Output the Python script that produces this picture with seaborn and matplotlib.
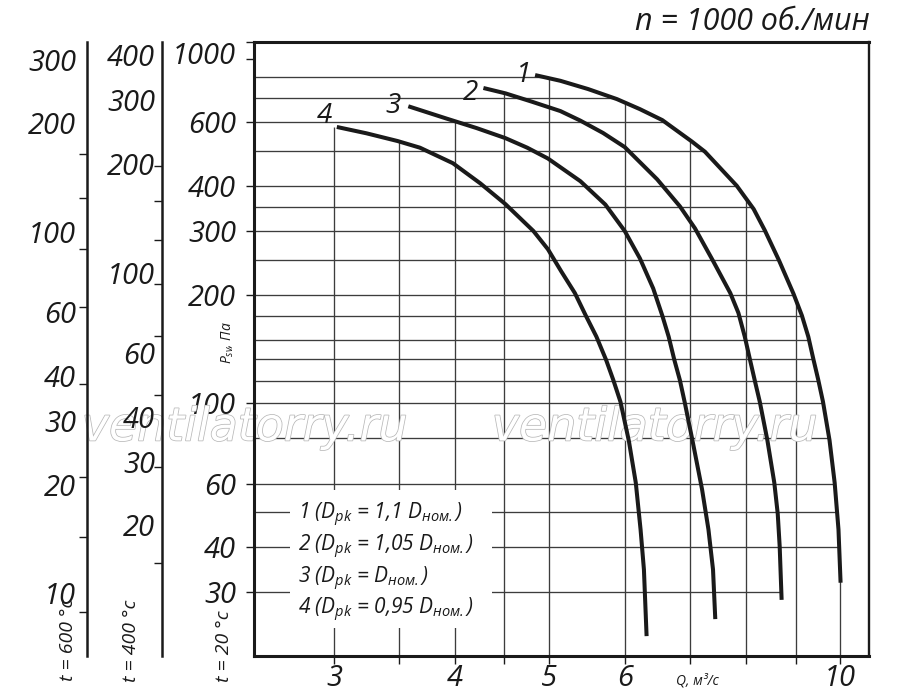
import numpy as np
import pandas as pd
import matplotlib
matplotlib.use('Agg')
import matplotlib.pyplot as plt
import matplotlib.patheffects as pe
from matplotlib.patches import Rectangle
from matplotlib.ticker import NullFormatter
import seaborn as sns

# %% Data: Q in m3/s, P_sv in Pa at t = 20 C
q1 = [4.84, 5.14, 5.49, 5.88, 6.21, 6.55, 7.03, 7.25, 7.82, 8.14, 8.36, 8.65, 8.95, 9.13, 9.27, 9.38, 9.49, 9.60, 9.75, 9.87, 9.96, 10.01]
p1 = [810, 781, 741, 695, 652, 608, 530, 497, 400, 345, 301, 248, 201, 175, 153, 133, 116.5, 101, 79.1, 60.3, 44.8, 31.9]

q2 = [4.28, 4.51, 4.80, 5.14, 5.39, 5.69, 5.99, 6.47, 6.83, 7.08, 7.39, 7.70, 7.85, 7.97, 8.07, 8.16, 8.26, 8.41, 8.55, 8.62, 8.66, 8.70]
p2 = [746, 721, 684, 644, 606, 560, 512, 417, 351, 305, 248, 202, 178, 153, 132, 116, 101, 79.1, 60.3, 49.5, 40.2, 28.6]

q3 = [3.58, 3.92, 4.21, 4.51, 4.75, 4.99, 5.39, 5.72, 5.99, 6.21, 6.41, 6.55, 6.65, 6.74, 6.83, 6.91, 7.04, 7.20, 7.31, 7.39, 7.43]
p3 = [664, 614, 578, 542, 510, 476, 412, 355, 300, 252, 208, 175, 153, 132, 116, 100.5, 78.6, 57.8, 44.8, 34.7, 25.3]

q4 = [3.02, 3.24, 3.49, 3.68, 3.98, 4.25, 4.51, 4.82, 4.99, 5.15, 5.32, 5.46, 5.60, 5.73, 5.83, 5.93, 6.05, 6.15, 6.22, 6.27, 6.31]
p4 = [582, 559, 532, 510, 462, 406, 356, 300, 267, 232, 202, 175, 153, 132, 116, 101, 78.6, 60.3, 44.8, 34.7, 22.7]

curve_names = ['1', '2', '3', '4']
legend_lines = [
    r'1 ($D_{pk}$ = 1,1 $D_{ном.}$)',
    r'2 ($D_{pk}$ = 1,05 $D_{ном.}$)',
    r'3 ($D_{pk}$ = $D_{ном.}$)',
    r'4 ($D_{pk}$ = 0,95 $D_{ном.}$)',
]

# grid values and ticks of the main (t = 20 C) scale
grid_p = [800, 700, 600, 500, 400, 350, 300, 250, 200, 175, 150, 133, 115, 100, 80, 60, 50, 40, 30]
grid_q = [3, 3.5, 4, 4.5, 5, 6, 7, 8, 9, 10]
xtick_major = [3, 4, 5, 6, 10]
xtick_minor = [3.5, 4.5, 7, 8, 9]
ytick_major = [1000, 600, 400, 300, 200, 100, 60, 40, 30]
ytick_minor = [900]

# extra pressure scales for hot gas
t600_labels = [300, 200, 100, 60, 40, 30, 20, 10]
t600_ticks = [164, 124, 90, 62, 38, 21, 14.3, 8.9]
t400_labels = [400, 300, 200, 100, 60, 40, 30, 20]
t400_ticks = [198, 158, 123, 93, 67, 46, 29, 15.7]

# %% Style
sns.set_theme(style='white')
plt.rcParams['font.family'] = ['Open Sans', 'DejaVu Sans']
plt.rcParams['font.style'] = 'italic'
plt.rcParams['mathtext.fontset'] = 'custom'
plt.rcParams['mathtext.it'] = 'Open Sans:italic'
plt.rcParams['mathtext.rm'] = 'Open Sans:italic'
plt.rcParams['mathtext.sf'] = 'Open Sans:italic'
plt.rcParams['text.color'] = '#1a1a1a'
plt.rcParams['xtick.color'] = '#1a1a1a'
plt.rcParams['ytick.color'] = '#1a1a1a'

ink = '#1a1a1a'
grid_col = '#3c3c3c'
W, H = 900, 697


def fx(px):
    return px / W


def fy(py):
    return 1 - py / H


fig = plt.figure(figsize=(W / 100, H / 100), dpi=100)
ax = fig.add_axes([fx(254), fy(656), fx(869) - fx(254), fy(42) - fy(656)])
ax.set_xscale('log')
ax.set_yscale('log')
ax.set_xlim(2.48, 10.71)
ax.set_ylim(20, 1000)

curves = [(np.array(q1), np.array(p1)), (np.array(q2), np.array(p2)),
          (np.array(q3), np.array(p3)), (np.array(q4), np.array(p4))]

# %% Grid lines stop at the outer envelope of the curves
for p in grid_p:
    reach = []
    for q, pp in curves:
        if pp.min() <= p <= pp.max() * 1.03:
            reach.append(np.exp(np.interp(np.log(p), np.log(pp[::-1]), np.log(q[::-1]))))
    if reach:
        ax.hlines(p, ax.get_xlim()[0], max(reach), color=grid_col, lw=0.95, zorder=1)

for qv in grid_q:
    reach = []
    for q, pp in curves:
        if q.min() - 0.05 <= qv <= q.max() + 0.02:
            reach.append(np.exp(np.interp(np.log(qv), np.log(q), np.log(pp))))
    if reach:
        ax.vlines(qv, ax.get_ylim()[0], max(reach), color=grid_col, lw=0.95, zorder=1)

# %% Curves
df = pd.concat([pd.DataFrame({'Q': q, 'P': pp, 'curve': name})
                for (q, pp), name in zip(curves, curve_names)], ignore_index=True)
sns.lineplot(data=df, x='Q', y='P', hue='curve', palette=[ink] * 4, estimator=None,
             sort=False, legend=False, lw=2.9, solid_capstyle='butt',
             solid_joinstyle='round', ax=ax, zorder=4)

label_offsets = [(-12, 0), (-13, -5), (-15, 0), (-12, 11)]
for (q, pp), name, off in zip(curves, curve_names, label_offsets):
    ax.annotate(name, xy=(q[0], pp[0]), xytext=off, textcoords='offset pixels',
                ha='center', va='center', fontsize=20, zorder=5)

# %% Axes, ticks
for side, lw in [('left', 2.2), ('bottom', 2.2), ('top', 2.2), ('right', 1.7)]:
    ax.spines[side].set_linewidth(lw)
    ax.spines[side].set_color(ink)
    ax.spines[side].set_zorder(6)

ax.set_xticks(xtick_major, labels=[str(v) for v in xtick_major])
ax.set_xticks(xtick_minor, minor=True)
ax.xaxis.set_minor_formatter(NullFormatter())
ax.set_yticks(ytick_major, labels=[str(v) for v in ytick_major])
ax.set_yticks(ytick_minor, minor=True)
ax.yaxis.set_minor_formatter(NullFormatter())
ax.tick_params(which='both', direction='out', length=6, width=1.0, bottom=True, left=True)
ax.tick_params(axis='x', labelsize=21, pad=0)
ax.tick_params(axis='y', labelsize=21, pad=7)
for lab in ax.get_yticklabels():
    if lab.get_text() == '1000':
        lab.set_va('top')
ax.set_xlabel('')
ax.set_ylabel('')

# %% Extra scales for t = 600 C and t = 400 C
for xpx, t, labels, ticks, pad in [(87, 600, t600_labels, t600_ticks, 8),
                                   (162, 400, t400_labels, t400_ticks, 5)]:
    r = (273 + 20) / (273 + t)
    a = fig.add_axes([fx(xpx), fy(656), 0.0001, fy(42) - fy(656)])
    a.set_yscale('log')
    a.set_ylim(20 * r, 1000 * r)
    a.patch.set_visible(False)
    for s in ['top', 'right', 'bottom']:
        a.spines[s].set_visible(False)
    a.spines['left'].set_linewidth(1.8)
    a.spines['left'].set_color(ink)
    a.set_xticks([])
    a.set_yticks(labels, labels=[str(v) for v in labels])
    a.set_yticks(ticks, minor=True)
    a.yaxis.set_minor_formatter(NullFormatter())
    a.tick_params(axis='y', which='major', length=0, pad=pad, labelsize=21, left=True)
    a.tick_params(axis='y', which='minor', length=6, width=1.0, direction='out', left=True)

# %% Legend block
ax.add_patch(Rectangle((fx(290), fy(628)), fx(492) - fx(290), fy(490) - fy(628),
                       transform=fig.transFigure, facecolor='white', edgecolor='none',
                       zorder=2, clip_on=False))
for line, ypx in zip(legend_lines, [519, 551, 583, 614]):
    fig.text(fx(298), fy(ypx), line, ha='left', va='baseline', fontsize=15)

# %% Texts
fig.text(fx(870), fy(22), 'n = 1000 об./мин', ha='right', va='center', fontsize=22)
fig.text(fx(697), fy(681), 'Q, м³/с', ha='center', va='center', fontsize=10)
fig.text(fx(228), fy(343), r'$P_{sv}$, Па', rotation=90, ha='center', va='center', fontsize=10)
fig.text(fx(68), fy(640), 't = 600 °c', rotation=90, ha='center', va='center', fontsize=14)
fig.text(fx(131), fy(641), 't = 400 °c', rotation=90, ha='center', va='center', fontsize=14)
fig.text(fx(224), fy(646), 't = 20 °c', rotation=90, ha='center', va='center', fontsize=14)

for xpx in [245, 655]:
    ax.text(fx(xpx), fy(428), 'ventilatorry.ru', transform=fig.transFigure, ha='center',
            va='center', fontsize=33, family='DejaVu Sans', color='white', clip_on=False,
            zorder=3, path_effects=[pe.withStroke(linewidth=1.1, foreground='#b8b8b8')])

fig.savefig('out.png', dpi=100)
